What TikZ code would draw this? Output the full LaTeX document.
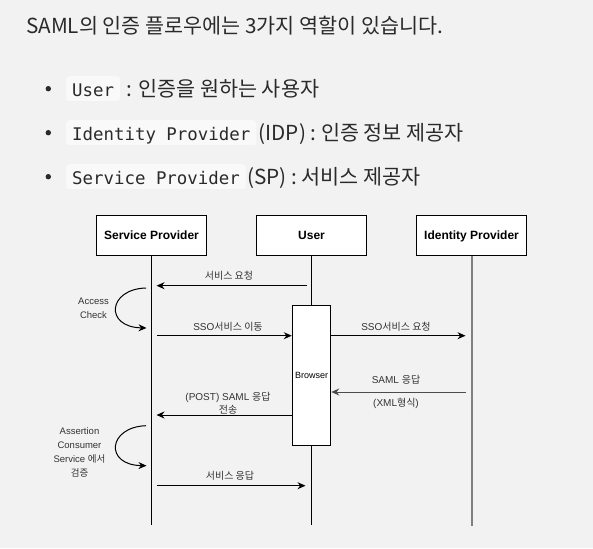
\documentclass[tikz,border=0pt]{standalone}
\usepackage{fontspec}
\setmainfont{Noto Sans CJK KR}
\newfontfamily\krfont{Noto Sans CJK KR}
\newfontfamily\codefont{DejaVu Sans Mono}
\newfontfamily\arialfont{Liberation Sans}
\usetikzlibrary{arrows.meta, positioning, calc}
\definecolor{pagebg}{HTML}{F2F2F2}
\definecolor{codebg}{HTML}{F9F9F9}
\definecolor{inktext}{HTML}{2A2A2A}
\definecolor{idpgray}{HTML}{808080}
\newcommand{\kr}[1]{{\krfont #1}}

\begin{document}
\begin{tikzpicture}[
        x=1pt, y=-1pt,
        >={Stealth[length=8pt, width=7pt]},
        body/.style={
            font=\fontsize{20.7}{24}\selectfont,
            text=inktext,
            inner sep=0pt
        },
        code/.style={
            font=\codefont\fontsize{17.4}{20}\selectfont,
            text=inktext,
            fill=codebg,
            rounded corners=3pt,
            inner xsep=6pt,
            inner ysep=3pt,
            text height=17pt,
            text depth=2pt
        },
        actor/.style={
            draw=black,
            fill=white,
            line width=1pt,
            minimum width=110pt,
            minimum height=40pt,
            text height=8.6pt,
            text depth=0pt,
            font=\arialfont\bfseries\fontsize{12}{14}\selectfont
        },
        msg/.style={
            font=\arialfont\fontsize{10}{12}\selectfont,
            text=black!80,
            inner sep=1pt,
            align=center
        },
        note/.style={
            font=\arialfont\fontsize{9.5}{14}\selectfont,
            text=black!80,
            inner sep=0pt,
            align=center
        },
        life/.style={draw, line width=1pt},
        line_arrow/.style={draw, line width=1pt, ->}
    ]

    % Page
    \fill[pagebg] (0,0) rectangle (593,548);
    \useasboundingbox (0,0) rectangle (593,548);

    % Heading and bullets
    \node[body, anchor=base west] (title) at (26,33.5) {SAML의 인증 플로우에는 3가지 역할이 있습니다.};

    \fill[inktext] (48.3,88.7) circle (2.7pt);
    \node[code, anchor=west] (usercode) at (66,88.7) {User\hspace{3pt}};
    \node[body, anchor=base west] (userdesc) at ([xshift=6pt]usercode.base east) {: 인증을 원하는 사용자};

    \fill[inktext] (48.3,132.7) circle (2.7pt);
    \node[code, anchor=west] (idpcode) at (66,132.7) {Identity Provider};
    \node[body, anchor=base west] (idpdesc) at ([xshift=2pt]idpcode.base east) {(IDP) : 인증 정보 제공자};

    \fill[inktext] (48.3,176.7) circle (2.7pt);
    \node[code, anchor=west] (spcode) at (66,176.7) {Service Provider};
    \node[body, anchor=base west] (spdesc) at ([xshift=1pt]spcode.base east) {(SP) : 서비스 제공자};

    % Actors
    \node[actor] (sp) at (151.5,235) {Service Provider};
    \node[actor] (user) at (311.5,235) {User};
    \node[actor] (idp) at (471.5,235) {Identity Provider};
    \node[draw=black, fill=white, line width=1pt, minimum width=38.5pt, minimum height=140pt,
          inner sep=0pt, font=\arialfont\fontsize{9}{11}\selectfont] (browser) at (311.5,375) {Browser};

    % Lifelines
    \coordinate (spend) at (151.5,525);
    \coordinate (userend) at (311.5,525);
    \coordinate (idpend) at (471.5,525.5);
    \draw[life] (sp.south) -- (spend);
    \draw[life] (user.south) -- (browser.north);
    \draw[life] (browser.south) -- (userend);
    \draw[life, idpgray, line width=2pt] (idp.south) -- (idpend);

    % Messages
    \coordinate (reqfrom) at (306.5,285.7);
    \coordinate (reqto) at (156.5,285.7);
    \draw[line_arrow] (reqfrom) -- (reqto);
    \node[msg] (reqlabel) at (229,275.5) {\kr{서비스 요청}};

    \coordinate (ssofrom) at (157,335.7);
    \draw[line_arrow] (ssofrom) -- (browser.west |- ssofrom);
    \node[msg] (ssolabel) at (228,326.5) {SSO\kr{서비스 이동}};

    \coordinate (ssoreq) at (465.5,335.7);
    \draw[line_arrow] (browser.east |- ssoreq) -- (ssoreq);
    \node[msg] (ssoreqlabel) at (396,326.5) {SSO\kr{서비스 요청}};

    \coordinate (samlfrom) at (465.5,392);
    \draw[line_arrow, black!70] (samlfrom) -- (browser.east |- samlfrom);
    \node[msg] (samllabel) at (396,379.5) {SAML \kr{응답}};
    \node[msg] (samlfmt) at (396,403.5) {(XML\kr{형식})};

    \coordinate (postto) at (156.5,415);
    \draw[line_arrow] (browser.west |- postto) -- (postto);
    \node[msg, font=\arialfont\fontsize{10}{13}\selectfont] (postlabel) at (228,403.5) {(POST) SAML \kr{응답}\\\kr{전송}};

    \coordinate (resfrom) at (157,485.7);
    \coordinate (resto) at (305.5,485.7);
    \draw[line_arrow] (resfrom) -- (resto);
    \node[msg] (reslabel) at (230,476) {\kr{서비스 응답}};

    % Self checks on the SP side
    \coordinate (accfrom) at (146,288);
    \coordinate (accto) at (146.5,328);
    \draw[line_arrow] (accfrom) .. controls (108,289) and (104,327) .. (accto);
    \node[note] (acclabel) at (93.5,308) {Access\\Check};

    \coordinate (asrfrom) at (146,425.7);
    \coordinate (asrto) at (146.5,465.7);
    \draw[line_arrow] (asrfrom) .. controls (108,427) and (104,465) .. (asrto);
    \node[note] (asrlabel) at (79.5,452) {Assertion\\Consumer\\Service \kr{에서}\\\kr{검증}};

\end{tikzpicture}
\end{document}
